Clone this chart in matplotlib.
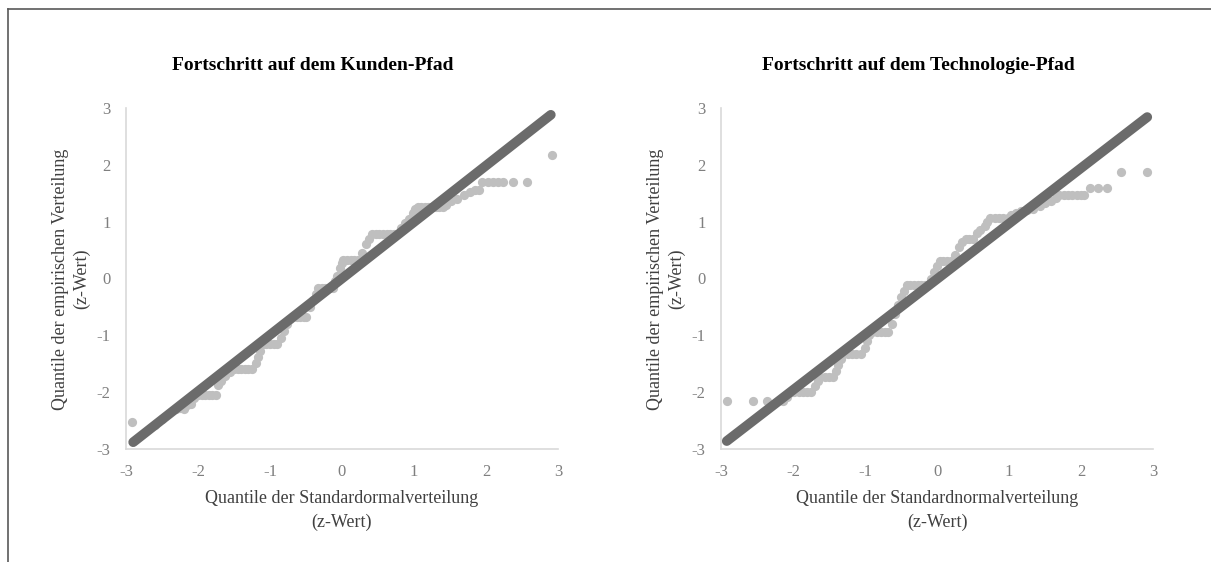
import matplotlib
matplotlib.use("Agg")
import matplotlib.pyplot as plt
from matplotlib.lines import Line2D

plt.rcParams['font.family'] = ['Liberation Serif', 'DejaVu Serif']

# ---------------- data ----------------
titles = ["Fortschritt auf dem Kunden-Pfad", "Fortschritt auf dem Technologie-Pfad"]
xlabels = ["Quantile der Standardormalverteilung\n(z-Wert)",
           "Quantile der Standardnormalverteilung\n(z-Wert)"]
ylabel = "Quantile der empirischen Verteilung\n(z-Wert)"
ticks = [-3, -2, -1, 0, 1, 2, 3]

kunden_x = [-2.92, -2.6, -2.5, -2.3, -2.25, -2.2, -2.15, -2.1, -2.05,
            -2.0, -1.95, -1.9, -1.85, -1.8, -1.75,
            -1.72, -1.68, -1.62, -1.56,
            -1.5, -1.45, -1.4, -1.35, -1.3, -1.25,
            -1.2, -1.17, -1.14,
            -1.1, -1.05, -1.0, -0.95, -0.9,
            -0.85, -0.8, -0.76, -0.72,
            -0.68, -0.63, -0.58, -0.53, -0.5,
            -0.45, -0.4, -0.36,
            -0.33, -0.28, -0.23, -0.18, -0.13,
            -0.1, -0.07, -0.03, 0.0,
            0.02, 0.07, 0.12, 0.17, 0.22,
            0.28, 0.33, 0.37,
            0.42, 0.47, 0.52, 0.57, 0.62, 0.67, 0.72, 0.77,
            0.82, 0.88, 0.93, 0.98, 1.02,
            1.06, 1.1, 1.15, 1.2, 1.25, 1.3, 1.35, 1.4,
            1.45, 1.52, 1.6, 1.7, 1.78, 1.85, 1.9,
            1.95, 2.03, 2.1, 2.17, 2.24, 2.38, 2.57,
            2.92]
kunden_y = [-2.53, -2.58, -2.48, -2.3, -2.28, -2.3, -2.22, -2.2, -2.1,
            -2.05, -2.05, -2.05, -2.05, -2.05, -2.05,
            -1.88, -1.8, -1.72, -1.65,
            -1.6, -1.6, -1.6, -1.6, -1.6, -1.6,
            -1.48, -1.38, -1.28,
            -1.16, -1.16, -1.16, -1.16, -1.16,
            -1.05, -0.92, -0.8, -0.72,
            -0.67, -0.67, -0.67, -0.67, -0.67,
            -0.5, -0.38, -0.27,
            -0.17, -0.17, -0.17, -0.17, -0.17,
            -0.05, 0.05, 0.18, 0.27,
            0.33, 0.33, 0.33, 0.33, 0.33,
            0.45, 0.6, 0.7,
            0.78, 0.78, 0.78, 0.78, 0.78, 0.78, 0.78, 0.78,
            0.88, 0.97, 1.05, 1.15, 1.22,
            1.25, 1.25, 1.25, 1.25, 1.25, 1.25, 1.25, 1.25,
            1.3, 1.36, 1.4, 1.47, 1.52, 1.55, 1.55,
            1.7, 1.7, 1.7, 1.7, 1.7, 1.7, 1.7,
            2.18]

tech_x = [-2.92, -2.56, -2.36, -2.14, -2.08, -2.02,
          -1.98, -1.92, -1.86, -1.8, -1.75,
          -1.7, -1.65,
          -1.62, -1.56, -1.5, -1.45,
          -1.4, -1.37, -1.34,
          -1.3, -1.24, -1.18, -1.12, -1.06,
          -1.0, -0.97, -0.94,
          -0.9, -0.84, -0.78, -0.72, -0.68,
          -0.62, -0.58, -0.54, -0.5, -0.46,
          -0.42, -0.37, -0.32, -0.27, -0.22, -0.17, -0.12,
          -0.08, -0.04, 0.0,
          0.04, 0.09, 0.14, 0.19,
          0.25, 0.3, 0.35,
          0.4, 0.45, 0.5,
          0.55, 0.6, 0.66, 0.7,
          0.74, 0.8, 0.86, 0.92, 0.98,
          1.03, 1.1, 1.17, 1.25, 1.33,
          1.43, 1.5, 1.58, 1.65,
          1.7, 1.76, 1.82, 1.88, 1.94, 2.0, 2.04,
          2.13, 2.24, 2.36,
          2.56, 2.92]
tech_y = [-2.16, -2.16, -2.16, -2.16, -2.08, -2.0,
          -2.0, -2.0, -2.0, -2.0, -2.0,
          -1.9, -1.8,
          -1.74, -1.74, -1.74, -1.74,
          -1.62, -1.52, -1.42,
          -1.33, -1.33, -1.33, -1.33, -1.33,
          -1.22, -1.1, -1.0,
          -0.95, -0.95, -0.95, -0.95, -0.95,
          -0.8, -0.62, -0.47, -0.33, -0.22,
          -0.12, -0.12, -0.12, -0.12, -0.12, -0.12, -0.12,
          0.0, 0.12, 0.22,
          0.3, 0.3, 0.3, 0.3,
          0.42, 0.55, 0.65,
          0.7, 0.7, 0.7,
          0.8, 0.85, 0.92, 1.0,
          1.07, 1.07, 1.07, 1.07, 1.07,
          1.12, 1.15, 1.18, 1.2, 1.22,
          1.27, 1.32, 1.37, 1.42,
          1.47, 1.47, 1.47, 1.47, 1.47, 1.47, 1.47,
          1.6, 1.6, 1.6,
          1.88, 1.88]

line_x = [[-2.9, 2.9], [-2.92, 2.92]]
line_y = [[-2.88, 2.88], [-2.86, 2.84]]

# ---------------- figure ----------------
W, H = 1211, 562
fig = plt.figure(figsize=(W / 100, H / 100), dpi=100)

# outer frame (left and top edges visible)
fig.add_artist(Line2D([8 / W, 8 / W], [0, 1 - 9 / H], transform=fig.transFigure,
                      color='#595959', lw=1.2))
fig.add_artist(Line2D([8 / W, 1], [1 - 9 / H, 1 - 9 / H], transform=fig.transFigure,
                      color='#595959', lw=1.2))

ax_lefts = [126 / W, 721 / W]
title_cx = [313 / W, 918 / W]
ylabel_x = [71 / W, 666 / W]
series = [(kunden_x, kunden_y), (tech_x, tech_y)]

for i in range(2):
    ax = fig.add_axes([ax_lefts[i], 1 - 449 / H, 432 / W, 341 / H])
    xs, ys = series[i]
    ax.scatter(xs, ys, s=44, color='#bfbfbf', linewidths=0, zorder=2, clip_on=False)
    ax.plot(line_x[i], line_y[i], color='#6b6b6b', lw=7, solid_capstyle='round',
            zorder=3, clip_on=False)
    ax.set_xlim(-3, 3)
    ax.set_ylim(-3, 3)
    ax.set_xticks(ticks)
    ax.set_yticks(ticks)
    ax.set_xticklabels([str(t) for t in ticks])
    ax.set_yticklabels([str(t) for t in ticks])
    for s in ['top', 'right']:
        ax.spines[s].set_visible(False)
    for s in ['left', 'bottom']:
        ax.spines[s].set_color('#d9d9d9')
        ax.spines[s].set_linewidth(1.2)
    ax.tick_params(length=0, labelsize=12, labelcolor='#7f7f7f')
    ax.tick_params(axis='x', pad=11)
    ax.tick_params(axis='y', pad=11)
    ax.set_xlabel(xlabels[i], fontsize=13, color='#404040', labelpad=7, linespacing=1.5)
    fig.text(ylabel_x[i], 1 - 279 / H, ylabel, rotation=90, ha='center', va='center',
             fontsize=13, color='#404040', linespacing=1.25)
    fig.text(title_cx[i], 1 - 66 / H, titles[i], ha='center', va='center',
             fontsize=14, fontweight='bold', color='black')

fig.savefig('out.png', dpi=100)
